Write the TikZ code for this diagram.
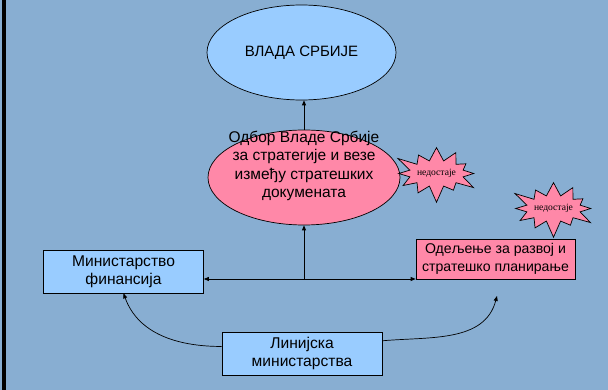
\documentclass[tikz,border=0pt]{standalone}
\usepackage{fontspec}
\setmainfont{Liberation Sans}
\newfontfamily\serifslova{Liberation Serif}
\usetikzlibrary{shapes.geometric,shapes.symbols,arrows.meta}
\definecolor{pozadina}{RGB}{136,174,210}
\definecolor{plava}{RGB}{153,204,255}
\definecolor{roza}{RGB}{255,136,168}

\begin{document}
\begin{tikzpicture}[x=1pt, y=-1pt,
  every node/.style={draw, line width=0.7pt, align=center},
  kutija/.style={rectangle, minimum width=160pt, inner sep=0pt, font=\fontsize{15.6pt}{18pt}\selectfont},
  zvezda/.style={starburst, starburst points=12, starburst point height=18pt, fill=roza, minimum width=56pt, minimum height=62pt, inner sep=0pt, font=\serifslova\fontsize{9.6pt}{10pt}\selectfont},
  veza/.style={-{Triangle[length=5pt,width=4pt]}, line width=0.7pt}]
  \fill[pozadina] (0,0) rectangle (608,390);
  \fill[black] (2,0) rectangle (6,390);
  \useasboundingbox (0,0) rectangle (608,390);
  \node[ellipse, fill=plava, minimum width=189pt, minimum height=95pt, font=\fontsize{15pt}{18pt}\selectfont] (vlada) at (301.5,52.5) {ВЛАДА СРБИЈЕ};
  \node[ellipse, fill=roza, minimum width=192pt, minimum height=95pt, inner sep=0pt] (odbor) at (304,177.5) {\fontsize{15.5pt}{18.5pt}\selectfont\raisebox{7.5pt}[0pt][0pt]{\makebox[0pt]{\begin{tabular}{@{}c@{}}Одбор Владе Србије\\за стратегије и везе\\између стратешких\\докумената\end{tabular}}}};
  \node[kutija, fill=plava, minimum height=43pt] (finansije) at (123.5,271.5) {Министарство\\финансија};
  \node[kutija, fill=roza, minimum width=159pt, minimum height=40pt, font=\fontsize{14.1pt}{18pt}\selectfont] (odeljenje) at (495.5,259) {Одељење за развој и\\стратешко планирање};
  \node[kutija, fill=plava, minimum height=43pt] (linijska) at (302,353.5) {Линијска\\министарства};
  \node[zvezda] (nedostaje1) at (436.5,173.5) {недостаје};
  \node[zvezda] (nedostaje2) at (553.5,208.5) {недостаје};
  \coordinate (spoj) at (304,279);
  \coordinate (ispod) at (497,296);
  % veze izmedju tela
  \draw[veza] (odbor.north) -- (odbor.north |- vlada.south);
  \draw[veza] (spoj) -- (odbor.south);
  \draw[veza] (spoj) -- (spoj -| finansije.east);
  \draw[veza] (spoj) -- (spoj -| odeljenje.west);
  \draw[veza] (linijska.175) to[out=180, in=-70] (finansije.south);
  \draw[veza] (linijska.9) to[out=5, in=-105] (ispod);
\end{tikzpicture}
\end{document}
